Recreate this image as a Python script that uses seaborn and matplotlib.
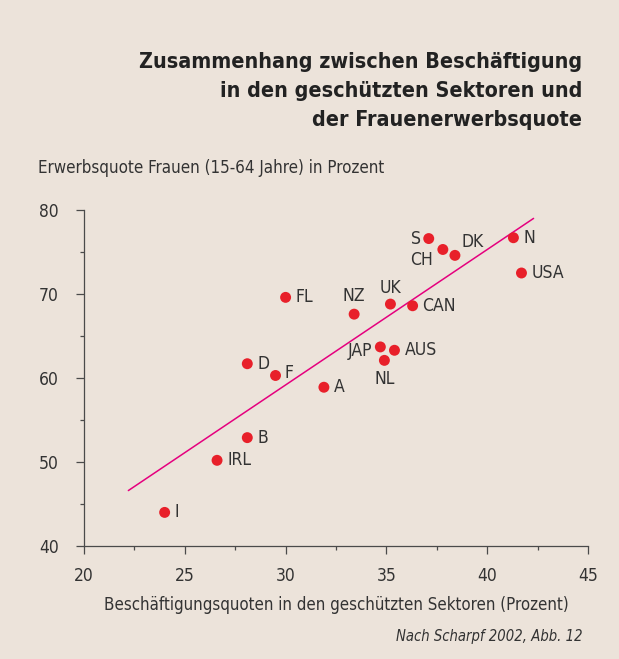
import seaborn as sns
import matplotlib.pyplot as plt
import pandas as pd
from matplotlib.ticker import MultipleLocator

# Data
countries = ["S", "CH", "DK", "N", "USA", "FL", "NZ", "UK", "CAN",
             "JAP", "AUS", "NL", "D", "F", "A", "B", "IRL", "I"]
sheltered = [37.1, 37.8, 38.4, 41.3, 41.7, 30.0, 33.4, 35.2, 36.3,
             34.7, 35.4, 34.9, 28.1, 29.5, 31.9, 28.1, 26.6, 24.0]
female_rate = [76.6, 75.3, 74.6, 76.7, 72.5, 69.6, 67.6, 68.8, 68.6,
               63.7, 63.3, 62.1, 61.7, 60.3, 58.9, 52.9, 50.2, 44.0]
# label placement: (dx, dy, ha) in pixels
label_pos = [(-8, 0, "right"), (-10, -11, "right"), (7, 13, "left"), (10, 0, "left"),
             (10, 0, "left"), (10, 0, "left"), (0, 18, "center"), (0, 16, "center"),
             (10, 0, "left"), (-8, -4, "right"), (10, 0, "left"), (0, -19, "center"),
             (10, 0, "left"), (9, 2, "left"), (10, 0, "left"), (10, 0, "left"),
             (10, 0, "left"), (10, 0, "left")]

trend_x = [22.2, 42.3]
trend_y = [46.6, 79.0]

title_lines = ["Zusammenhang zwischen Beschäftigung",
               "in den geschützten Sektoren und",
               "der Frauenerwerbsquote"]
y_label = "Erwerbsquote Frauen (15-64 Jahre) in Prozent"
x_label = "Beschäftigungsquoten in den geschützten Sektoren (Prozent)"
source = "Nach Scharpf 2002, Abb. 12"

bg = "#ece3da"
ink = "#333333"

sns.set_theme(style="ticks", rc={"figure.facecolor": bg, "axes.facecolor": bg})
plt.rcParams["font.family"] = ["DejaVu Sans"]
plt.rcParams["font.stretch"] = "condensed"

df = pd.DataFrame({"land": countries, "x": sheltered, "y": female_rate})
trend = pd.DataFrame({"x": trend_x, "y": trend_y})

fig = plt.figure(figsize=(6.19, 6.59), dpi=100)
ax = fig.add_axes([84 / 619, 113 / 659, 504 / 619, 336 / 659])

sns.lineplot(data=trend, x="x", y="y", ax=ax, color="#e5007e", linewidth=1.1)
sns.scatterplot(data=df, x="x", y="y", ax=ax, color="#e8202a", s=62,
                edgecolor="none", zorder=3)

for (name, xv, yv), (dx, dy, ha) in zip(zip(countries, sheltered, female_rate), label_pos):
    ax.annotate(name, (xv, yv), xytext=(dx, dy), textcoords="offset pixels",
                ha=ha, va="center", fontsize=12.6, color=ink)

ax.set_xlim(20, 45)
ax.set_ylim(40, 80)
ax.xaxis.set_major_locator(MultipleLocator(5))
ax.xaxis.set_minor_locator(MultipleLocator(2.5))
ax.yaxis.set_major_locator(MultipleLocator(10))
ax.yaxis.set_minor_locator(MultipleLocator(5))
ax.tick_params(which="major", length=6, width=0.9, color="#4a4a4a",
               labelsize=12.5, labelcolor=ink)
ax.tick_params(axis="y", which="major", pad=12)
ax.tick_params(axis="x", which="major", pad=9)
ax.tick_params(which="minor", length=3, width=0.9, color="#4a4a4a")
ax.set_xlabel("")
ax.set_ylabel("")
for side in ["left", "bottom"]:
    ax.spines[side].set_color("#4a4a4a")
    ax.spines[side].set_linewidth(0.9)
sns.despine(ax=ax)

for i, line in enumerate(title_lines):
    fig.text(582 / 619, 1 - (68 + 29 * i) / 659, line, ha="right", va="baseline",
             fontsize=15.4, fontweight="bold", color="#222222")
fig.text(38 / 619, 1 - 168 / 659, y_label, ha="left", va="center", fontsize=12.2, color=ink)
fig.text(336 / 619, 1 - 605 / 659, x_label, ha="center", va="center", fontsize=12.1, color=ink)
fig.text(583 / 619, 1 - 637 / 659, source, ha="right", va="center", fontsize=10.6,
         style="italic", color=ink)

fig.savefig("out.png", dpi=100, facecolor=bg)
